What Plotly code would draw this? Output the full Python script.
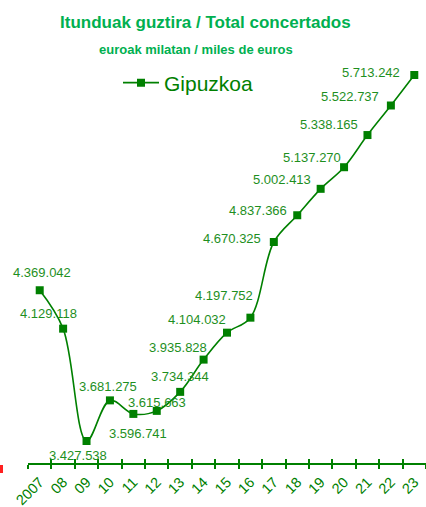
import plotly.graph_objects as go

years = ["2007", "08", "09", "10", "11", "12", "13", "14", "15", "16",
         "17", "18", "19", "20", "21", "22", "23"]
values = [4369042, 4129118, 3427538, 3681275, 3596741, 3615663, 3734344,
          3935828, 4104032, 4197752, 4670325, 4837366, 5002413, 5137270,
          5338165, 5522737, 5713242]
labels = ["4.369.042", "4.129.118", "3.427.538", "3.681.275", "3.596.741",
          "3.615.663", "3.734.344", "3.935.828", "4.104.032", "4.197.752",
          "4.670.325", "4.837.366", "5.002.413", "5.137.270", "5.338.165",
          "5.522.737", "5.713.242"]
series_name = "Gipuzkoa"

# label offsets (pixels) relative to each point
label_dx = [2, -15, -9, -2, 5, 0, 0, -26, -30, -26, -42, -39, -39, -32, -38, -41, -43]
label_dy = [18, 15, -14, 14, -20, 8, 15, 12, 13, 22, 3, 5, 9, 10, 11, 9, 2]

GREEN = "#008000"
TXT = "#1e8f1e"
TITLE = "#00b050"
FONT = "Liberation Sans, Arial"

W_PLOT = 398
H_PLOT = 403
T = 60
L = 28

fig = go.Figure()
fig.add_trace(go.Scatter(
    x=years, y=values, name=series_name, mode="lines+markers",
    line=dict(color=GREEN, width=1.6, shape="spline", smoothing=1.0),
    marker=dict(symbol="square", size=8, color=GREEN),
))
# invisible helper trace to draw the inner half of the crossing tick marks
fig.add_trace(go.Scatter(
    x=years, y=values, xaxis="x2", mode="markers",
    marker=dict(opacity=0), showlegend=False, hoverinfo="skip",
))

for i, (v, t, dx, dy) in enumerate(zip(values, labels, label_dx, label_dy)):
    fig.add_annotation(x=i, y=v, text=t, showarrow=False,
                       xshift=dx, yshift=dy,
                       font=dict(family=FONT, size=13, color=TXT))

fig.add_annotation(xref="paper", yref="paper", x=(205.5 - L) / W_PLOT, y=1,
                   text="<b>Itunduak guztira / Total concertados</b>",
                   showarrow=False, yanchor="middle", xanchor="center",
                   yshift=T - 22,
                   font=dict(family=FONT, size=17, color=TITLE))
fig.add_annotation(xref="paper", yref="paper", x=(196 - L) / W_PLOT, y=1,
                   text="<b>euroak milatan / miles de euros</b>",
                   showarrow=False, yanchor="middle", xanchor="center",
                   yshift=T - 49,
                   font=dict(family=FONT, size=13, color=TITLE))

fig.add_shape(type="rect", xref="paper", yref="paper",
              x0=-L / W_PLOT, x1=-(L - 3) / W_PLOT, y0=-2 / H_PLOT, y1=-10 / H_PLOT,
              fillcolor="#ff2020", line=dict(width=0))

fig.update_layout(
    width=426, height=507,
    margin=dict(l=L, r=0, t=T, b=44, autoexpand=False),
    paper_bgcolor="white", plot_bgcolor="white",
    showlegend=True,
    legend=dict(x=(118 - L) / W_PLOT, y=1 - (83 - T) / H_PLOT, xanchor="left", yanchor="middle",
                bgcolor="rgba(0,0,0,0)",
                font=dict(family=FONT, size=21, color=GREEN),
                itemwidth=36),
    xaxis=dict(type="category", range=[-0.5, 16.5], showgrid=False,
               showline=True, linecolor=GREEN, linewidth=2,
               ticks="outside", tickson="boundaries", ticklen=4, tickwidth=1.5,
               tickcolor=GREEN, tickangle=-45, ticklabelstandoff=3,
               tickfont=dict(family=FONT, size=14.5, color=GREEN),
               zeroline=False, fixedrange=True, automargin=False),
    xaxis2=dict(type="category", range=[-0.5, 16.5], overlaying="x", side="bottom",
                showgrid=False, showline=False, showticklabels=False,
                ticks="inside", tickson="boundaries", ticklen=4, tickwidth=1.5,
                tickcolor=GREEN, zeroline=False, fixedrange=True, automargin=False),
    yaxis=dict(range=[3290148, 5806883], visible=False, showgrid=False,
               zeroline=False, fixedrange=True, automargin=False),
)

fig.write_html("out.html", config={"displayModeBar": False})
